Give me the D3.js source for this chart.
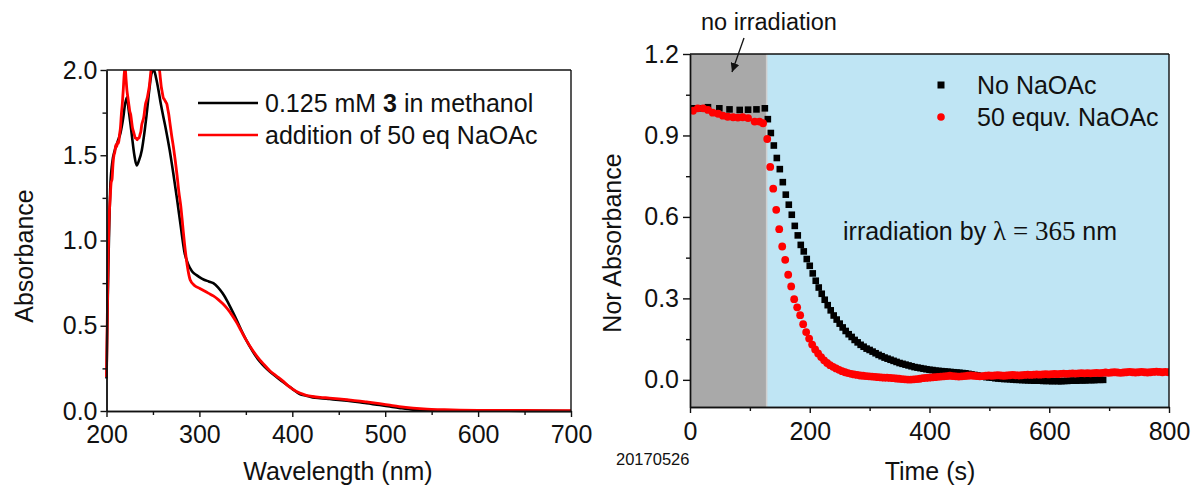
<!DOCTYPE html>
<html>
  <head>
    <meta charset="utf-8">
    <title>Absorbance plots</title>
    <style media="screen">
      body {
        margin: 0;
        background: #fff;
      }

      text {
        font-family: Arial, "Liberation Sans", sans-serif;
        fill: #111;
      }

      .axis path,
      .axis line {
        stroke: #111;
        stroke-width: 1.4px;
        fill: none;
      }

      .axis text {
        font-size: 25px;
      }

      .frame {
        stroke: #111;
        stroke-width: 1.4px;
      }
    </style>
  </head>
  <body>
    <div class="container"></div>
    <script src="https://cdn.jsdelivr.net/npm/d3@7/dist/d3.min.js" charset="utf-8"></script>
    <script type="text/javascript">
    // ---- left panel: UV-Vis spectra ----
    var wlBlack = [200, 201, 202, 203, 204, 206, 209, 212, 215, 218,
      220, 222, 224, 227, 230, 232.5, 235, 238, 241, 243,
      246, 248.5, 251, 253.5, 256, 258.5, 261, 264, 268, 272,
      276, 280, 284, 288, 292, 296, 300, 305, 310, 315,
      320, 325, 330, 336, 340, 345, 350, 358, 365, 370,
      376, 383, 390, 395, 400, 408, 415, 422, 430, 440,
      450, 459, 470, 480, 494, 505, 515, 530, 545, 560,
      580, 600, 650, 700];
    var absBlack = [0.19, 0.55, 0.85, 1.10, 1.30, 1.45, 1.53, 1.58, 1.63, 1.72,
      1.80, 1.84, 1.76, 1.63, 1.50, 1.44, 1.47, 1.53, 1.64, 1.73,
      1.88, 1.98, 2.00, 1.95, 1.88, 1.80, 1.73, 1.65, 1.53, 1.39,
      1.24, 1.08, 0.93, 0.86, 0.82, 0.80, 0.785, 0.77, 0.76, 0.75,
      0.725, 0.69, 0.645, 0.58, 0.535, 0.475, 0.42, 0.345, 0.29, 0.26,
      0.23, 0.20, 0.17, 0.15, 0.13, 0.10, 0.09, 0.08, 0.075, 0.07,
      0.065, 0.06, 0.053, 0.045, 0.035, 0.026, 0.018, 0.008, 0.005, 0.003,
      0.002, 0.002, 0.001, 0.0];

    var wlRed = [200, 201, 202, 203, 204, 205, 206, 207, 208, 209,
      210, 211, 212, 213, 214, 215, 216, 217, 218, 219,
      220, 221, 222, 223, 224, 225, 226, 227, 228, 229,
      230, 231, 232, 233, 234, 235, 236, 237, 238, 239,
      240, 241, 242, 243, 244, 245, 246, 247, 248, 250,
      255, 257, 258, 259, 260, 261, 262, 263, 264, 265,
      266, 267, 268, 270, 272, 274, 276, 278, 280, 282,
      284, 287, 290, 295, 300, 305, 310, 315, 320, 325,
      330, 336, 340, 345, 350, 358, 365, 370, 376, 383,
      390, 395, 400, 408, 415, 422, 430, 440, 450, 459,
      470, 480, 494, 505, 515, 530, 545, 560, 580, 600,
      650, 700];
    var absRed = [0.20, 0.60, 0.95, 1.15, 1.25, 1.34, 1.36, 1.45, 1.50, 1.52,
      1.56, 1.55, 1.58, 1.57, 1.62, 1.66, 1.74, 1.80, 1.88, 1.97,
      2.02, 1.95, 1.88, 1.84, 1.80, 1.76, 1.74, 1.70, 1.66, 1.64,
      1.62, 1.60, 1.60, 1.59, 1.60, 1.60, 1.62, 1.64, 1.68, 1.70,
      1.72, 1.76, 1.80, 1.82, 1.84, 1.87, 1.90, 1.95, 2.00, 2.02,
      2.02, 2.00, 1.95, 1.90, 1.87, 1.84, 1.83, 1.82, 1.81, 1.80,
      1.77, 1.74, 1.70, 1.62, 1.55, 1.47, 1.38, 1.28, 1.20, 1.09,
      0.98, 0.85, 0.77, 0.735, 0.72, 0.705, 0.69, 0.675, 0.655, 0.63,
      0.60, 0.555, 0.52, 0.47, 0.42, 0.35, 0.30, 0.27, 0.235, 0.205,
      0.175, 0.15, 0.13, 0.105, 0.092, 0.085, 0.08, 0.076, 0.071, 0.066,
      0.06, 0.053, 0.043, 0.034, 0.026, 0.017, 0.011, 0.008, 0.005, 0.004,
      0.003, 0.002];

    var wlTicks = [200, 300, 400, 500, 600, 700];
    var absTicks = [0.0, 0.5, 1.0, 1.5, 2.0];

    // ---- right panel: kinetics ----
    var timeNo = [5, 15, 30, 49, 66, 83, 97, 111, 125,
      130, 135, 140, 145, 150, 155, 160, 165, 170, 175,
      180, 185, 190, 195, 200, 205, 210, 215, 220, 225,
      230, 235, 240, 245, 250, 255, 260, 265, 270, 275,
      280, 285, 290, 295, 300, 305, 310, 315, 320, 325,
      330, 335, 340, 345, 350, 355, 360, 365, 370, 375,
      380, 385, 390, 395, 400, 405, 410, 415, 420, 425,
      430, 435, 440, 445, 450, 455, 460, 465, 470, 475,
      480, 485, 490, 495, 500, 505, 510, 515, 520, 525,
      530, 535, 540, 545, 550, 555, 560, 565, 570, 575,
      580, 585, 590, 595, 600, 605, 610, 615, 620, 625,
      630, 635, 640, 645, 650, 655, 660, 665, 670, 675,
      680, 685, 690];
    var absNo = [1.000, 1.000, 1.004, 1.000, 0.996, 0.994, 0.995, 0.996, 1.000,
      0.960, 0.909, 0.863, 0.817, 0.776, 0.728, 0.682, 0.645, 0.608, 0.567,
      0.532, 0.497, 0.473, 0.445, 0.420, 0.392, 0.365, 0.340, 0.317, 0.295,
      0.275, 0.256, 0.237, 0.222, 0.207, 0.193, 0.180, 0.168, 0.158, 0.147,
      0.138, 0.129, 0.122, 0.115, 0.110, 0.104, 0.098, 0.092, 0.087, 0.082,
      0.078, 0.074, 0.070, 0.066, 0.062, 0.059, 0.056, 0.053, 0.050, 0.047,
      0.045, 0.043, 0.041, 0.039, 0.037, 0.036, 0.034, 0.033, 0.032, 0.031,
      0.030, 0.029, 0.028, 0.027, 0.026, 0.025, 0.024, 0.022, 0.020, 0.018,
      0.016, 0.014, 0.012, 0.010, 0.009, 0.008, 0.006, 0.005, 0.004, 0.003,
      0.003, 0.002, 0.001, 0.000, 0.000, -0.001, -0.001, -0.002, -0.002, -0.003,
      -0.003, -0.003, -0.004, -0.004, -0.004, -0.005, -0.004, -0.005, -0.005, -0.004,
      -0.004, -0.003, -0.003, -0.003, -0.002, -0.002, -0.002, -0.001, -0.001, -0.001,
      0.000, 0.000, 0.000];

    var timeAc = [5, 13, 22, 30, 38, 47, 55, 63, 72, 80, 88, 97, 108, 116, 122,
      129, 134, 139, 144, 149, 154, 159, 164, 169, 174,
      179, 184, 189, 194, 199, 204, 209, 214, 219, 224,
      229, 234, 239, 244, 249, 254, 259, 264, 269, 274,
      279, 284, 289, 294, 299, 304, 309, 314, 319, 324,
      329, 334, 339, 344, 349, 354, 359, 364, 369, 374,
      379, 384, 389, 394, 399, 404, 409, 414, 419, 424,
      429, 434, 439, 444, 449, 454, 459, 464, 469, 474,
      479, 484, 489, 494, 499, 504, 509, 514, 519, 524,
      529, 534, 539, 544, 549, 554, 559, 564, 569, 574,
      579, 584, 589, 594, 599, 604, 609, 614, 619, 624,
      629, 634, 639, 644, 649, 654, 659, 664, 669, 674,
      679, 684, 689, 694, 699, 704, 709, 714, 719, 724,
      729, 734, 739, 744, 749, 754, 759, 764, 769, 774,
      779, 784, 789, 794, 799];
    var absAc = [0.991, 1.000, 1.000, 0.994, 0.984, 0.980, 0.973, 0.969, 0.967, 0.966, 0.967, 0.964, 0.951, 0.951, 0.945,
      0.887, 0.784, 0.704, 0.626, 0.555, 0.491, 0.442, 0.387, 0.344, 0.297,
      0.267, 0.238, 0.205, 0.176, 0.152, 0.130, 0.112, 0.097, 0.084, 0.072,
      0.062, 0.054, 0.048, 0.042, 0.037, 0.032, 0.028, 0.025, 0.022, 0.020,
      0.018, 0.016, 0.015, 0.014, 0.013, 0.012, 0.011, 0.010, 0.009, 0.008,
      0.008, 0.007, 0.006, 0.005, 0.004, 0.003, 0.002, 0.001, 0.001, 0.002,
      0.003, 0.004, 0.006, 0.007, 0.008, 0.009, 0.010, 0.011, 0.012, 0.013,
      0.014, 0.015, 0.014, 0.013, 0.012, 0.013, 0.014, 0.015, 0.016, 0.015,
      0.014, 0.013, 0.014, 0.015, 0.016, 0.015, 0.016, 0.017, 0.016, 0.015,
      0.016, 0.017, 0.018, 0.017, 0.016, 0.017, 0.018, 0.019, 0.018, 0.019,
      0.020, 0.019, 0.020, 0.021, 0.020, 0.021, 0.022, 0.021, 0.022, 0.023,
      0.022, 0.023, 0.024, 0.023, 0.024, 0.025, 0.024, 0.025, 0.024, 0.025,
      0.026, 0.025, 0.026, 0.027, 0.026, 0.027, 0.028, 0.027, 0.026, 0.027,
      0.028, 0.029, 0.028, 0.027, 0.028, 0.029, 0.028, 0.027, 0.028, 0.029,
      0.030, 0.029, 0.028, 0.029, 0.028];

    var timeTicks = [0, 200, 400, 600, 800];
    var norTicks = [0.0, 0.3, 0.6, 0.9, 1.2];
    var darkEnd = 128; // end of the no-irradiation period (s)

    var width = 1195;
    var height = 490;

    var svg = d3.select(".container")
        .append("svg")
        .attr("width", width)
        .attr("height", height);

    function pairs(xs, ys) {
      var n = Math.min(xs.length, ys.length);
      var out = [];
      for (var i = 0; i < n; i++) out.push([xs[i], ys[i]]);
      return out;
    }

    // =============== left chart ===============
    var xL = d3.scaleLinear().domain([200, 700]).range([106.5, 571]);
    var yL = d3.scaleLinear().domain([0, 2]).range([411, 70]);

    svg.append("clipPath").attr("id", "clipL")
      .append("rect")
        .attr("x", xL(200) - 2).attr("y", yL(2))
        .attr("width", xL(700) - xL(200) + 2)
        .attr("height", yL(0) - yL(2) + 2);

    var left = svg.append("g");

    var lineL = d3.line()
        .x(function(d) { return xL(d[0]); })
        .y(function(d) { return yL(d[1]); })
        .curve(d3.curveMonotoneX);

    left.append("path")
        .datum(pairs(wlBlack, absBlack))
        .attr("clip-path", "url(#clipL)")
        .attr("d", lineL)
        .attr("fill", "none")
        .attr("stroke", "#000")
        .attr("stroke-width", 2.6);

    left.append("path")
        .datum(pairs(wlRed, absRed))
        .attr("clip-path", "url(#clipL)")
        .attr("d", lineL)
        .attr("fill", "none")
        .attr("stroke", "#f00")
        .attr("stroke-width", 2.8);

    // minor ticks
    left.append("g").attr("class", "axis")
        .attr("transform", "translate(0," + yL(0) + ")")
        .call(d3.axisBottom(xL).tickValues([250, 350, 450, 550, 650]).tickSize(4).tickSizeOuter(0).tickFormat(""));
    left.append("g").attr("class", "axis")
        .attr("transform", "translate(" + xL(200) + ",0)")
        .call(d3.axisLeft(yL).tickValues([0.25, 0.75, 1.25, 1.75]).tickSize(4).tickSizeOuter(0).tickFormat(""));

    left.append("g").attr("class", "axis")
        .attr("transform", "translate(0," + yL(0) + ")")
        .call(d3.axisBottom(xL).tickValues(wlTicks).tickSize(6).tickSizeOuter(0).tickPadding(8));
    left.append("g").attr("class", "axis")
        .attr("transform", "translate(" + xL(200) + ",0)")
        .call(d3.axisLeft(yL).tickValues(absTicks).tickSize(6).tickSizeOuter(0).tickPadding(3)
          .tickFormat(d3.format(".1f")));

    left.append("line").attr("class", "frame")
        .attr("x1", xL(200)).attr("x2", xL(700)).attr("y1", yL(2)).attr("y2", yL(2));
    left.append("line").attr("class", "frame")
        .attr("x1", xL(700)).attr("x2", xL(700)).attr("y1", yL(2)).attr("y2", yL(0));

    left.append("text")
        .attr("x", 338).attr("y", 480)
        .attr("text-anchor", "middle")
        .attr("font-size", 25)
        .text("Wavelength (nm)");
    left.append("text")
        .attr("transform", "translate(33,256) rotate(-90)")
        .attr("text-anchor", "middle")
        .attr("font-size", 25)
        .text("Absorbance");

    // legend
    var legL = [
      { color: "#000", y: 103 },
      { color: "#f00", y: 135 }
    ];
    left.selectAll(".legLine")
        .data(legL)
        .enter()
        .append("line")
        .attr("x1", 198).attr("x2", 258)
        .attr("y1", function(d) { return d.y; })
        .attr("y2", function(d) { return d.y; })
        .attr("stroke", function(d) { return d.color; })
        .attr("stroke-width", 2.4);

    var t1 = left.append("text").attr("x", 265).attr("y", 112).attr("font-size", 25);
    t1.append("tspan").text("0.125 mM ");
    t1.append("tspan").attr("font-weight", "bold").text("3");
    t1.append("tspan").text(" in methanol");
    left.append("text").attr("x", 265).attr("y", 144).attr("font-size", 25)
        .text("addition of 50 eq NaOAc");

    // =============== right chart ===============
    var xR = d3.scaleLinear().domain([0, 800]).range([690, 1169]);
    var yR = d3.scaleLinear().domain([-0.1, 1.2]).range([407, 54]);

    var right = svg.append("g");

    right.append("rect")
        .attr("x", xR(0)).attr("y", yR(1.2))
        .attr("width", xR(darkEnd) - xR(0))
        .attr("height", yR(-0.1) - yR(1.2))
        .attr("fill", "#a9a9a9");
    right.append("rect")
        .attr("x", xR(darkEnd)).attr("y", yR(1.2))
        .attr("width", xR(800) - xR(darkEnd))
        .attr("height", yR(-0.1) - yR(1.2))
        .attr("fill", "#bfe5f4");
    right.append("line")
        .attr("x1", xR(darkEnd)).attr("x2", xR(darkEnd))
        .attr("y1", yR(1.2)).attr("y2", yR(-0.1))
        .attr("stroke", "#cfcfcf").attr("stroke-width", 1.5);

    svg.append("clipPath").attr("id", "clipR")
      .append("rect")
        .attr("x", xR(0)).attr("y", yR(1.2))
        .attr("width", xR(800) - xR(0))
        .attr("height", yR(-0.1) - yR(1.2));

    var pts = right.append("g").attr("clip-path", "url(#clipR)");

    pts.selectAll(".sq")
        .data(pairs(timeNo, absNo))
        .enter()
        .append("rect")
        .attr("class", "sq")
        .attr("x", function(d) { return xR(d[0]) - 3.3; })
        .attr("y", function(d) { return yR(d[1]) - 3.3; })
        .attr("width", 6.6)
        .attr("height", 6.6)
        .attr("fill", "#000");

    pts.selectAll(".dot")
        .data(pairs(timeAc, absAc))
        .enter()
        .append("circle")
        .attr("class", "dot")
        .attr("cx", function(d) { return xR(d[0]); })
        .attr("cy", function(d) { return yR(d[1]); })
        .attr("r", 3.9)
        .attr("fill", "#f00");

    right.append("g").attr("class", "axis")
        .attr("transform", "translate(0," + yR(-0.1) + ")")
        .call(d3.axisBottom(xR).tickValues([100, 300, 500, 700]).tickSize(4).tickSizeOuter(0).tickFormat(""));
    right.append("g").attr("class", "axis")
        .attr("transform", "translate(" + xR(0) + ",0)")
        .call(d3.axisLeft(yR).tickValues([0.15, 0.45, 0.75, 1.05]).tickSize(4).tickSizeOuter(0).tickFormat(""));

    right.append("g").attr("class", "axis")
        .attr("transform", "translate(0," + yR(-0.1) + ")")
        .call(d3.axisBottom(xR).tickValues(timeTicks).tickSize(6).tickSizeOuter(0).tickPadding(9));
    right.append("g").attr("class", "axis")
        .attr("transform", "translate(" + xR(0) + ",0)")
        .call(d3.axisLeft(yR).tickValues(norTicks).tickSize(7).tickSizeOuter(0).tickPadding(4)
          .tickFormat(d3.format(".1f")));

    right.append("line").attr("class", "frame")
        .attr("x1", xR(0)).attr("x2", xR(800)).attr("y1", yR(1.2)).attr("y2", yR(1.2));
    right.append("line").attr("class", "frame")
        .attr("x1", xR(800)).attr("x2", xR(800)).attr("y1", yR(1.2)).attr("y2", yR(-0.1));

    right.append("text")
        .attr("x", 930).attr("y", 480)
        .attr("text-anchor", "middle")
        .attr("font-size", 25)
        .text("Time (s)");
    right.append("text")
        .attr("transform", "translate(621,243) rotate(-90)")
        .attr("text-anchor", "middle")
        .attr("font-size", 25)
        .text("Nor Absorbance");
    right.append("text")
        .attr("x", 616).attr("y", 465)
        .attr("font-size", 16.5)
        .text("20170526");

    // annotations
    right.append("text")
        .attr("x", 701).attr("y", 30)
        .attr("font-size", 23.5)
        .text("no irradiation");

    svg.append("defs").append("marker")
        .attr("id", "arrow")
        .attr("viewBox", "0 0 10 10")
        .attr("refX", 10).attr("refY", 5)
        .attr("markerWidth", 9).attr("markerHeight", 9)
        .attr("markerUnits", "userSpaceOnUse")
        .attr("orient", "auto")
      .append("path")
        .attr("d", "M0,0 L10,5 L0,10 z")
        .attr("fill", "#111");

    right.append("line")
        .attr("x1", 744).attr("y1", 38)
        .attr("x2", 732).attr("y2", 72)
        .attr("stroke", "#111").attr("stroke-width", 1.3)
        .attr("marker-end", "url(#arrow)");

    var irr = right.append("text").attr("x", 843).attr("y", 240).attr("font-size", 25);
    irr.append("tspan").text("irradiation by ");
    irr.append("tspan")
        .style("font-family", "'Times New Roman', 'Liberation Serif', serif")
        .attr("font-size", 27)
        .text("\u03bb = 365");
    irr.append("tspan").text(" nm");

    // legend
    right.append("rect")
        .attr("x", 941 - 3.5).attr("y", 85 - 3.5)
        .attr("width", 7).attr("height", 7)
        .attr("fill", "#000");
    right.append("circle")
        .attr("cx", 941).attr("cy", 117).attr("r", 3.8)
        .attr("fill", "#f00");
    right.append("text").attr("x", 977).attr("y", 94).attr("font-size", 25).text("No NaOAc");
    right.append("text").attr("x", 977).attr("y", 126).attr("font-size", 25).text("50 equv. NaOAc");
    </script>
  </body>
</html>
